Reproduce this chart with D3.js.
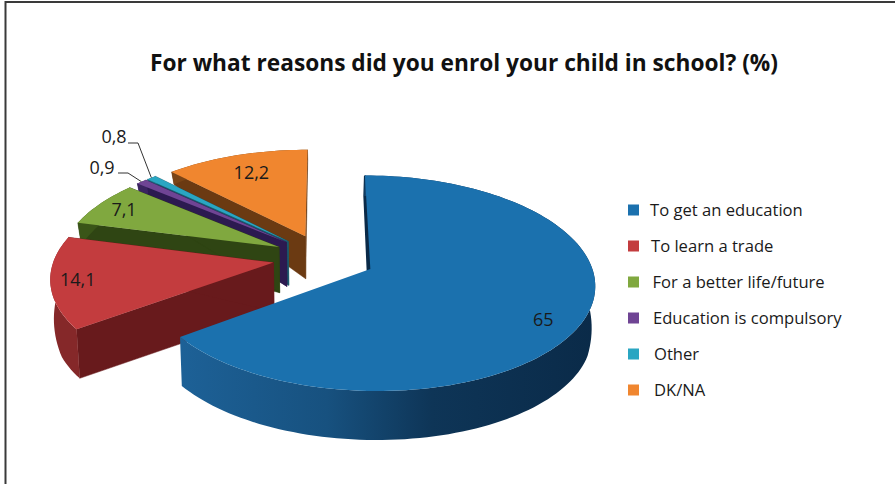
<!DOCTYPE html>
<html>
<head>
<meta charset="utf-8">
<script src="https://cdn.jsdelivr.net/npm/d3@7/dist/d3.min.js"></script>
<style>
  html, body { margin: 0; padding: 0; background: #fff; }
  svg { display: block; }
  text { font-family: "Open Sans", sans-serif; fill: #1a1a1a; }
</style>
</head>
<body>
<svg id="chart" width="895" height="484"></svg>
<script>
// Reasons for enrolling a child in school, percentage of answers
const categories = ["To get an education", "To learn a trade", "For a better life/future",
                    "Education is compulsory", "Other", "DK/NA"];
const shares = [65, 14.1, 7.1, 0.9, 0.8, 12.2];
const shareLabels = ["65", "14,1", "7,1", "0,9", "0,8", "12,2"];
const titleText = "For what reasons did you enrol your child in school? (%)";

const topColors   = ["#1b71ae", "#c33c3e", "#80a83f", "#6f4494", "#2aa6c2", "#f0862f"];
const edgeColors  = ["#0a2a48", "#681a1c", "#2f4513", "#2c1a50", "#1a5a6c", "#6b3a12"];
const rimColors   = ["#1c5f92", "#852829", "#3a5518", "#3a2360", "#1f6c80", "#7a4416"];
const labelRadii  = [0.85, 0.88, 0.86, null, null, 0.76];
const labelTurns  = [0.09, 0, 0, 0, 0, 0];

const svg = d3.select("#chart");
const width = 895;

// Page frame: rule along the top and the left side
svg.append("rect").attr("x", 0).attr("y", 0).attr("width", width).attr("height", 484).attr("fill", "#fff");
svg.append("path").attr("d", "M5.5,484V2H895").attr("fill", "none").attr("stroke", "#3a3a3a").attr("stroke-width", 2);

svg.append("text").text(titleText)
  .attr("x", 464).attr("y", 71).attr("text-anchor", "middle")
  .attr("font-size", 24).attr("font-weight", 700).attr("textLength", 628)
  .attr("lengthAdjust", "spacingAndGlyphs").style("fill", "#111");

// Perspective view of the pie plane: u runs right, v runs away from the viewer, in pie radii
const center = { x: 324, y: 258 }, spreadX = 219, spreadY = 103, perspective = 0.13, explode = 0.234;
const project = (u, v) => {
  const s = 1 / (1 + perspective * v);
  return [center.x + spreadX * u * s, center.y - spreadY * v * s];
};
// Height of the extruded side at a plane position; falls off toward the back and the far sides
const sideHeight = (u, v) => Math.max(4, Math.min(49, 49.5 - 32 * v - 11.5 * u * u));

const slices = d3.pie().sort(null).value(d => d)(shares).map((p, i) => {
  const mid = (p.startAngle + p.endAngle) / 2;
  return { ...p, i, mid, ox: explode * Math.sin(mid), oy: explode * Math.cos(mid) };
});

const plane = (s, a, r) => [s.ox + r * Math.sin(a), s.oy + r * Math.cos(a)];
const topPoint = (s, a, r) => project(...plane(s, a, r));
const basePoint = (s, a, r) => {
  const [u, v] = plane(s, a, r);
  const [x, y] = project(u, v);
  return [x - 3 * u, y + sideHeight(u, v)];
};

const outline = d3.line();
const arcAngles = s => {
  const n = Math.max(2, Math.ceil((s.endAngle - s.startAngle) / 0.03));
  return d3.range(n + 1).map(k => s.startAngle + (s.endAngle - s.startAngle) * k / n);
};

// Side shading across the large slice's rim
const defs = svg.append("defs");
const grad = defs.append("linearGradient").attr("id", "rimShade")
  .attr("gradientUnits", "userSpaceOnUse").attr("x1", 180).attr("x2", 600).attr("y1", 0).attr("y2", 0);
[[0, "#1d6197"], [0.35, "#17517f"], [0.6, "#0e3557"], [1, "#0a2a48"]].forEach(([o, c]) =>
  grad.append("stop").attr("offset", o).attr("stop-color", c));

// Painted back to front so nearer slices cover farther ones
const drawOrder = [5, 4, 3, 2, 1, 0];
const pieLayer = svg.append("g");
drawOrder.forEach(i => {
  const s = slices[i], g = pieLayer.append("g");
  const angles = arcAngles(s);
  // The large slice only shows its cut side at the top edge
  const cuts = i === 0 ? [s.startAngle] : [s.startAngle, s.endAngle];
  cuts.forEach(a => {
    g.append("path")
      .attr("d", outline([topPoint(s, a, 0), topPoint(s, a, 1), basePoint(s, a, 1), basePoint(s, a, 0)]) + "Z")
      .attr("fill", edgeColors[i]).attr("stroke", edgeColors[i]).attr("stroke-width", i === 0 ? 2 : 0.5);
  });
  const rimPath = angles.map(a => topPoint(s, a, 1)).concat(angles.slice().reverse().map(a => basePoint(s, a, 1)));
  g.append("path").attr("d", outline(rimPath) + "Z")
    .attr("fill", i === 0 ? "url(#rimShade)" : rimColors[i]);
  const topPath = [topPoint(s, 0, 0)].concat(angles.map(a => topPoint(s, a, 1)));
  g.append("path").attr("d", outline(topPath) + "Z").attr("fill", topColors[i]);
});

// Value labels inside the larger slices
slices.filter(s => labelRadii[s.i] !== null).forEach(s => {
  const [x, y] = topPoint(s, s.mid + labelTurns[s.i], labelRadii[s.i]);
  svg.append("text").text(shareLabels[s.i]).attr("x", x).attr("y", y + 6)
    .attr("text-anchor", "middle").attr("font-size", 18);
});

// Thin slices carry their labels outside, on elbowed leaders
const leaders = [
  { i: 3, label: [102, 174], elbow: [[118, 173], [128, 173]] },
  { i: 4, label: [114, 143], elbow: [[128, 143], [138, 143]] }
];
leaders.forEach(({ i, label, elbow }) => {
  const s = slices[i];
  svg.append("path").attr("d", outline(elbow.concat([topPoint(s, s.mid, 1.0)])))
    .attr("fill", "none").attr("stroke", "#333").attr("stroke-width", 1);
  svg.append("text").text(shareLabels[i]).attr("x", label[0]).attr("y", label[1])
    .attr("text-anchor", "middle").attr("font-size", 18);
});

// Legend
const legendY = d3.scalePoint().domain(categories).range([210, 390]);
const legendTextX = [650, 651, 652.5, 653, 654, 654];
const legend = svg.append("g");
categories.forEach((c, i) => {
  legend.append("rect").attr("x", 628).attr("y", legendY(c) - 5.5).attr("width", 11).attr("height", 11)
    .attr("fill", topColors[i]);
  legend.append("text").text(c).attr("x", legendTextX[i]).attr("y", legendY(c) + 5.5)
    .attr("font-size", 16.6);
});
</script>
</body>
</html>
